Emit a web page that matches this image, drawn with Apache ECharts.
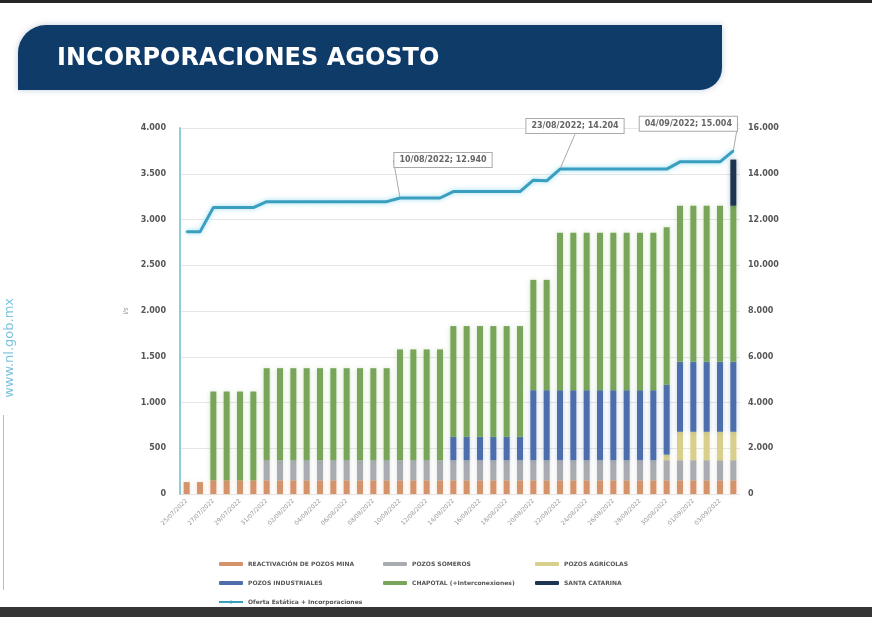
<!DOCTYPE html>
<html>
<head>
<meta charset="utf-8">
<script src="https://cdn.jsdelivr.net/npm/echarts@6/dist/echarts.min.js"></script>
<style>
  html, body { margin: 0; padding: 0; background: #fff; }
  #chart { width: 872px; height: 617px; }
</style>
</head>
<body>
<div id="chart"></div>
<script>
const fechas = [
  '25/07/2022', '26/07/2022', '27/07/2022', '28/07/2022', '29/07/2022', '30/07/2022', '31/07/2022',
  '01/08/2022', '02/08/2022', '03/08/2022', '04/08/2022', '05/08/2022', '06/08/2022', '07/08/2022',
  '08/08/2022', '09/08/2022', '10/08/2022', '11/08/2022', '12/08/2022', '13/08/2022', '14/08/2022',
  '15/08/2022', '16/08/2022', '17/08/2022', '18/08/2022', '19/08/2022', '20/08/2022', '21/08/2022',
  '22/08/2022', '23/08/2022', '24/08/2022', '25/08/2022', '26/08/2022', '27/08/2022', '28/08/2022',
  '29/08/2022', '30/08/2022', '31/08/2022', '01/09/2022', '02/09/2022', '03/09/2022', '04/09/2022'
]

const reactivacion = [
  130, 130, 150, 150, 150, 150, 150, 150, 150, 150, 150, 150, 150, 150,
  150, 150, 150, 150, 150, 150, 150, 150, 150, 150, 150, 150, 150, 150,
  150, 150, 150, 150, 150, 150, 150, 150, 150, 150, 150, 150, 150, 150
]
const someros = [
  0, 0, 0, 0, 0, 0, 220, 220, 220, 220, 220, 220, 220, 220,
  220, 220, 220, 220, 220, 220, 220, 220, 220, 220, 220, 220, 220, 220,
  220, 220, 220, 220, 220, 220, 220, 220, 220, 220, 220, 220, 220, 220
]
const agricolas = [
  0, 0, 0, 0, 0, 0, 0, 0, 0, 0, 0, 0, 0, 0,
  0, 0, 0, 0, 0, 0, 0, 0, 0, 0, 0, 0, 0, 0,
  0, 0, 0, 0, 0, 0, 0, 0, 60, 310, 310, 310, 310, 310
]
const industriales = [
  0, 0, 0, 0, 0, 0, 0, 0, 0, 0, 0, 0, 0, 0,
  0, 0, 0, 0, 0, 0, 255, 255, 255, 255, 255, 255, 765, 765,
  765, 765, 765, 765, 765, 765, 765, 765, 765, 765, 765, 765, 765, 765
]
const chapotal = [
  0, 0, 970, 970, 970, 970, 1005, 1005, 1005, 1005, 1005, 1005, 1005, 1005,
  1005, 1005, 1210, 1210, 1210, 1210, 1210, 1210, 1210, 1210, 1210, 1210, 1205, 1205,
  1720, 1720, 1720, 1720, 1720, 1720, 1720, 1720, 1720, 1705, 1705, 1705, 1705, 1705
]
const santaCatarina = [
  0, 0, 0, 0, 0, 0, 0, 0, 0, 0, 0, 0, 0, 0,
  0, 0, 0, 0, 0, 0, 0, 0, 0, 0, 0, 0, 0, 0,
  0, 0, 0, 0, 0, 0, 0, 0, 0, 0, 0, 0, 0, 505
]
const oferta = [
  11460, 11460, 12520, 12520, 12520, 12520, 12780, 12780, 12780, 12780, 12780, 12780, 12780, 12780,
  12780, 12780, 12940, 12940, 12940, 12940, 13220, 13220, 13220, 13220, 13220, 13220, 13720, 13690,
  14204, 14204, 14204, 14204, 14204, 14204, 14204, 14204, 14204, 14520, 14520, 14520, 14520, 15004
]
// puntos anotados sobre la línea
const anotaciones = {
  16: '10/08/2022; 12.940',
  28: '23/08/2022; 14.204',
  41: '04/09/2022; 15.004'
}
const desplazamiento = {
  16: { dx: 43, dy: -25 },
  28: { dx: 15, dy: -30 },
  41: { dx: -45, dy: -14 }
}

const fmt = v => String(v).replace(/\B(?=(\d{3})+(?!\d))/g, '.')

const chart = echarts.init(document.getElementById('chart'), null, { renderer: 'canvas' })

function barSerie(name, data, color) {
  return {
    name,
    type: 'bar',
    stack: 'total',
    data,
    barWidth: 6,
    itemStyle: { color, shadowBlur: 5, shadowColor: color + '55' }
  }
}

const legendText = { fontSize: 6, fontWeight: 'bold', color: '#555', fontFamily: 'DejaVu Sans' }
const legendBase = {
  orient: 'vertical',
  top: 556,
  itemWidth: 24,
  itemHeight: 4,
  itemGap: 13,
  textStyle: legendText,
  selectedMode: false
}

const option = {
  animation: false,
  backgroundColor: '#fff',
  title: {
    text: 'INCORPORACIONES AGOSTO',
    left: 52,
    top: 42,
    textStyle: { color: '#fff', fontSize: 24, fontWeight: 'bold', fontFamily: 'DejaVu Sans' }
  },
  graphic: [
    { type: 'rect', left: 0, top: 0, shape: { width: 872, height: 3 }, style: { fill: '#262626' } },
    { type: 'rect', left: 0, top: 607, shape: { width: 872, height: 10 }, style: { fill: '#353535' } },
    {
      type: 'rect', left: 18, top: 25, z: -1,
      shape: { width: 704, height: 65, r: [28, 0, 22, 0] },
      style: { fill: '#0e3b68', shadowBlur: 6, shadowColor: 'rgba(14,59,104,0.25)' }
    },
    {
      type: 'text', left: 3, top: 298, rotation: Math.PI / 2,
      style: { text: 'www.nl.gob.mx', fill: '#7dc3de', font: '13px DejaVu Sans' }
    },
    { type: 'rect', left: 3, top: 415, shape: { width: 1, height: 175 }, style: { fill: '#8fcbe2' } }
  ],
  legend: [
    Object.assign({}, legendBase, {
      left: 213,
      data: ['REACTIVACIÓN DE POZOS MINA', 'POZOS INDUSTRIALES', 'Oferta Estática + Incorporaciones']
    }),
    Object.assign({}, legendBase, {
      left: 378,
      data: ['POZOS SOMEROS', 'CHAPOTAL (+Interconexiones)']
    }),
    Object.assign({}, legendBase, {
      left: 530,
      data: ['POZOS AGRÍCOLAS', 'SANTA CATARINA']
    })
  ],
  grid: { left: 180, right: 132, top: 128, bottom: 123 },
  xAxis: {
    type: 'category',
    data: fechas,
    axisLine: { show: false },
    axisTick: { show: false },
    axisLabel: {
      rotate: 45,
      interval: 1,
      fontSize: 6,
      color: '#999',
      fontFamily: 'DejaVu Sans',
      margin: 6
    }
  },
  yAxis: [
    {
      type: 'value',
      min: 0,
      max: 4000,
      interval: 500,
      name: 'l/s',
      nameLocation: 'middle',
      nameGap: 50,
      nameRotate: 90,
      nameTextStyle: { fontSize: 7, color: '#999' },
      axisLine: { show: true, lineStyle: { color: '#8fcfdc', width: 2 } },
      axisTick: { show: false },
      splitLine: { lineStyle: { color: '#e6e6e6' } },
      axisLabel: { fontSize: 8, fontWeight: 'bold', color: '#555', fontFamily: 'DejaVu Sans', formatter: fmt, margin: 14 }
    },
    {
      type: 'value',
      min: 0,
      max: 16000,
      interval: 2000,
      axisLine: { show: false },
      axisTick: { show: false },
      splitLine: { show: false },
      axisLabel: { fontSize: 8, fontWeight: 'bold', color: '#555', fontFamily: 'DejaVu Sans', formatter: fmt, margin: 8 }
    }
  ],
  series: [
    barSerie('REACTIVACIÓN DE POZOS MINA', reactivacion, '#d4936a'),
    barSerie('POZOS SOMEROS', someros, '#a8abb0'),
    barSerie('POZOS AGRÍCOLAS', agricolas, '#d8cf8c'),
    barSerie('POZOS INDUSTRIALES', industriales, '#4c6eac'),
    barSerie('CHAPOTAL (+Interconexiones)', chapotal, '#79a55a'),
    barSerie('SANTA CATARINA', santaCatarina, '#1e3552'),
    {
      name: 'Oferta Estática + Incorporaciones',
      type: 'line',
      yAxisIndex: 1,
      symbol: 'circle',
      symbolSize: 2,
      showAllSymbol: true,
      z: 5,
      data: oferta.map((v, i) => anotaciones[i]
        ? { value: v, label: { show: true, formatter: anotaciones[i] } }
        : v),
      lineStyle: { color: '#3a9fbf', width: 3, shadowBlur: 5, shadowColor: 'rgba(120,210,235,0.8)' },
      itemStyle: { color: '#3a9fbf' },
      label: {
        show: false,
        position: 'top',
        fontSize: 8,
        fontWeight: 'bold',
        color: '#666',
        fontFamily: 'DejaVu Sans',
        backgroundColor: '#fff',
        borderColor: '#aaa',
        borderWidth: 1,
        padding: [3, 5]
      },
      labelLine: { show: true, lineStyle: { color: '#aaa', width: 1 } },
      labelLayout: params => desplazamiento[params.dataIndex] || {}
    }
  ]
}

chart.setOption(option)
</script>
</body>
</html>
